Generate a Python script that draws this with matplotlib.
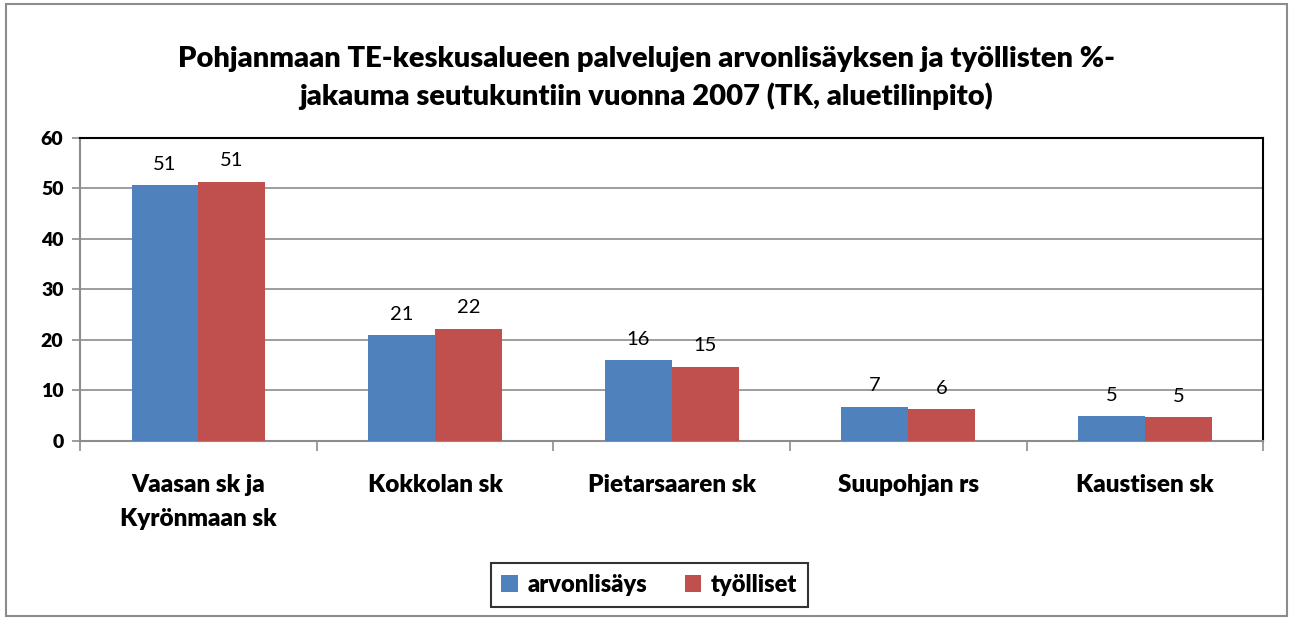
import numpy as np
import matplotlib.pyplot as plt
from matplotlib.patches import Rectangle

plt.rcParams['font.family'] = ['Lato', 'DejaVu Sans']

categories = ['Vaasan sk ja\nKyrönmaan sk', 'Kokkolan sk', 'Pietarsaaren sk',
              'Suupohjan rs', 'Kaustisen sk']
arvonlisays = [50.6, 20.9, 16.0, 6.8, 4.9]
tyolliset = [51.3, 22.2, 14.7, 6.3, 4.7]
series_names = ['arvonlisäys', 'työlliset']

blue = '#4f81bd'
red = '#c0504d'
bold = 'heavy'

fig = plt.figure(figsize=(12.93, 6.21), dpi=100)
ax = fig.add_axes([0.062, 0.29, 0.915, 0.488])

x = np.arange(len(categories))
w = 0.283
b1 = ax.bar(x - w / 2, arvonlisays, w, color=blue, label=series_names[0], zorder=3)
b2 = ax.bar(x + w / 2, tyolliset, w, color=red, label=series_names[1], zorder=3)

for bars, vals in ((b1, arvonlisays), (b2, tyolliset)):
    for bar, v in zip(bars, vals):
        ax.annotate(f'{v:.0f}', (bar.get_x() + bar.get_width() / 2, v),
                    xytext=(0, 9), textcoords='offset points',
                    ha='center', va='bottom', fontsize=14.5)

ax.set_xlim(-0.5, len(categories) - 0.5)
ax.set_ylim(0, 60)
ax.set_yticks(range(0, 61, 10))
ax.yaxis.grid(True, color='#8c8c8c', linewidth=1.2, zorder=0)
ax.set_xticks(x)
ax.set_xticklabels(categories, fontsize=17.5, fontweight=bold, linespacing=1.65)
ax.set_xticks(np.arange(-0.5, len(categories)), minor=True)
ax.tick_params(axis='x', which='major', length=0, pad=24)
ax.tick_params(axis='x', which='minor', length=7, color='#8c8c8c', width=1.2)
ax.tick_params(axis='y', length=6, color='#8c8c8c', width=1.2, pad=6)
for lab in ax.get_yticklabels():
    lab.set_fontweight(bold)
    lab.set_fontsize(14)

ax.spines['left'].set_color('#8c8c8c')
ax.spines['bottom'].set_color('#8c8c8c')
ax.spines['left'].set_linewidth(1.5)
ax.spines['bottom'].set_linewidth(1.5)
ax.spines['top'].set_color('black')
ax.spines['right'].set_color('black')
ax.spines['top'].set_linewidth(1.5)
ax.spines['right'].set_linewidth(1.5)

fig.text(0.5, 0.875, 'Pohjanmaan TE-keskusalueen palvelujen arvonlisäyksen ja työllisten %-\n'
         'jakauma seutukuntiin vuonna 2007 (TK, aluetilinpito)',
         ha='center', va='center', fontsize=21, fontweight=bold, linespacing=1.45)

leg = fig.legend(loc='center', bbox_to_anchor=(0.502, 0.058), ncol=2,
                 prop={'weight': bold, 'size': 17}, frameon=True, fancybox=False,
                 handlelength=0.7, handleheight=0.7, handletextpad=0.4,
                 columnspacing=1.6, borderpad=0.45)
leg.get_frame().set_edgecolor('black')
leg.get_frame().set_linewidth(1.5)

fig.patches.append(Rectangle((0.005, 0.008), 0.99, 0.985, transform=fig.transFigure,
                             fill=False, edgecolor='#8c8c8c', linewidth=1.5))

fig.savefig('out.png', dpi=100)
